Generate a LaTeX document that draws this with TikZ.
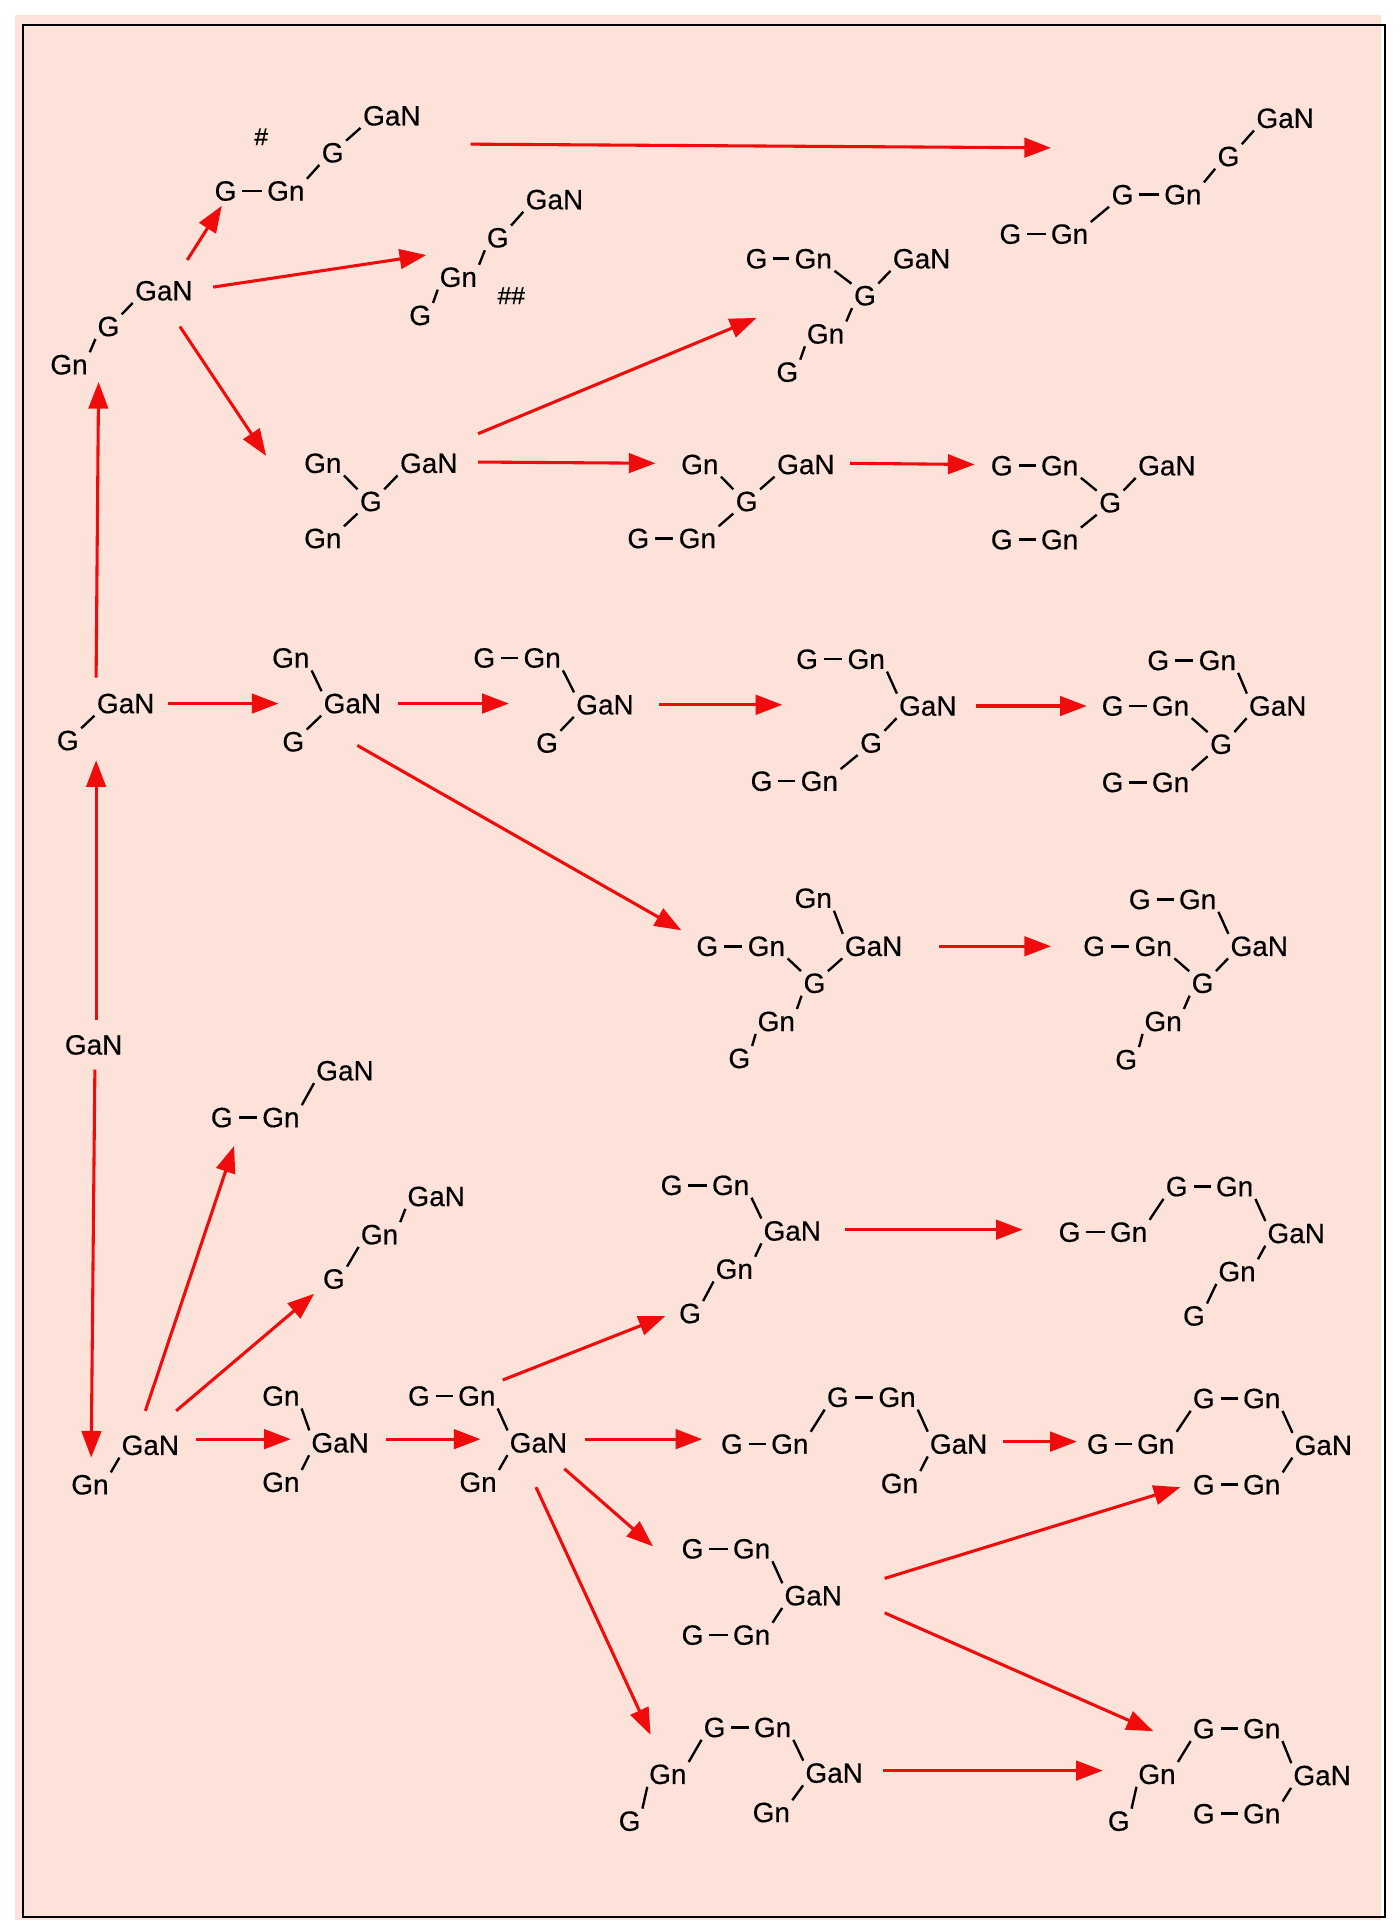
\documentclass[tikz,border=0pt]{standalone}
\usepackage{fontspec}
\setmainfont{Liberation Sans}
\newfontfamily\labfam{Liberation Sans}[FakeBold=0.4]
\usetikzlibrary{arrows.meta}
\definecolor{peach}{RGB}{252,226,216}
\definecolor{arrred}{RGB}{240,12,12}
\newcommand{\labfont}{\labfam\fontsize{13.6}{16}\selectfont}
\newcommand{\bup}[2]{\draw[bd] (#1.north east) -- (#2.south west);}
\newcommand{\bdn}[2]{\draw[bd] (#1.south east) -- (#2.north west);}
\newcommand{\bhz}[2]{\draw[hb] (#1.east) -- (#2.west);}
\newcommand{\arw}[3]{\coordinate (#1s) at (#2); \coordinate (#1e) at (#3); \draw[arr] (#1s) -- (#1e);}
\tikzset{
  lab/.style={inner sep=0.6pt, font=\labfont, text height=9.4pt, text depth=0pt},
  hsh/.style={inner sep=0.6pt, font=\labfam\fontsize{12}{14}\selectfont},
  bd/.style={line width=1.15pt, shorten <=0.6pt, shorten >=0.6pt},
  hb/.style={line width=1.25pt, shorten <=2.1pt, shorten >=1.8pt},
  arr/.style={draw=arrred, line width=1.5pt, -{Triangle[length=13pt,width=9.5pt]}},
}
\begin{document}
\begin{tikzpicture}[x=0.6pt,y=-0.6pt]
\useasboundingbox (0,0) rectangle (1136,1568);
\fill[peach] (12,12) rectangle (1121,1558);
\draw[line width=1pt] (19,20) rectangle (1124,1556);

% A
\node[lab] (a1) at (56,296) {Gn};
\node[lab] (a2) at (88,265) {G};
\node[lab] (a3) at (133,236) {GaN};
\bup{a1}{a2}\bup{a2}{a3}
% B
\node[hsh] (b0) at (212,111) {\#};
\node[lab] (b1) at (183,155) {G};
\node[lab] (b2) at (232,155) {Gn};
\node[lab] (b3) at (270,124) {G};
\node[lab] (b4) at (318,94) {GaN};
\bhz{b1}{b2}\bup{b2}{b3}\bup{b3}{b4}
% C
\node[lab] (c1) at (820,190) {G};
\node[lab] (c2) at (868,190) {Gn};
\node[lab] (c3) at (911,158) {G};
\node[lab] (c4) at (960,158) {Gn};
\node[lab] (c5) at (997,127) {G};
\node[lab] (c6) at (1043,96) {GaN};
\bhz{c1}{c2}\bup{c2}{c3}\bhz{c3}{c4}\bup{c4}{c5}\bup{c5}{c6}
% D
\node[lab] (d1) at (341,256) {G};
\node[lab] (d2) at (372,225) {Gn};
\node[lab] (d3) at (404,193) {G};
\node[lab] (d4) at (450,162) {GaN};
\node[hsh] (d0) at (415,240) {\#\#};
\bup{d1}{d2}\bup{d2}{d3}\bup{d3}{d4}
% E
\node[lab] (e1) at (614,210) {G};
\node[lab] (e2) at (660,210) {Gn};
\node[lab] (e3) at (748,210) {GaN};
\node[lab] (e4) at (702,240) {G};
\node[lab] (e5) at (670,271) {Gn};
\node[lab] (e6) at (639,302) {G};
\bhz{e1}{e2}\bdn{e2}{e4}\bup{e4}{e3}\bup{e5}{e4}\bup{e6}{e5}
% F
\node[lab] (f1) at (262,376) {Gn};
\node[lab] (f2) at (348,376) {GaN};
\node[lab] (f3) at (301,407) {G};
\node[lab] (f4) at (262,437) {Gn};
\bdn{f1}{f3}\bup{f3}{f2}\bup{f4}{f3}
% G
\node[lab] (g1) at (568,377) {Gn};
\node[lab] (g2) at (654,377) {GaN};
\node[lab] (g3) at (606,407) {G};
\node[lab] (g4) at (518,437) {G};
\node[lab] (g5) at (566,437) {Gn};
\bdn{g1}{g3}\bup{g3}{g2}\bup{g5}{g3}\bhz{g4}{g5}
% H
\node[lab] (h1) at (813,378) {G};
\node[lab] (h2) at (860,378) {Gn};
\node[lab] (h3) at (947,378) {GaN};
\node[lab] (h4) at (901,408) {G};
\node[lab] (h5) at (813,438) {G};
\node[lab] (h6) at (860,438) {Gn};
\bhz{h1}{h2}\bdn{h2}{h4}\bup{h4}{h3}\bup{h6}{h4}\bhz{h5}{h6}
% I
\node[lab] (i1) at (102,571) {GaN};
\node[lab] (i2) at (55,601) {G};
\bup{i2}{i1}
% J
\node[lab] (j1) at (236,534) {Gn};
\node[lab] (j2) at (286,571) {GaN};
\node[lab] (j3) at (238,602) {G};
\bdn{j1}{j2}\bup{j3}{j2}
% K
\node[lab] (k1) at (393,534) {G};
\node[lab] (k2) at (440,534) {Gn};
\node[lab] (k3) at (491,572) {GaN};
\node[lab] (k4) at (444,603) {G};
\bhz{k1}{k2}\bdn{k2}{k3}\bup{k4}{k3}
% L
\node[lab] (l1) at (655,535) {G};
\node[lab] (l2) at (703,535) {Gn};
\node[lab] (l3) at (753,573) {GaN};
\node[lab] (l4) at (707,603) {G};
\node[lab] (l5) at (618,634) {G};
\node[lab] (l6) at (665,634) {Gn};
\bhz{l1}{l2}\bdn{l2}{l3}\bup{l4}{l3}\bup{l6}{l4}\bhz{l5}{l6}
% M
\node[lab] (m1) at (940,536) {G};
\node[lab] (m2) at (988,536) {Gn};
\node[lab] (m3) at (903,573) {G};
\node[lab] (m4) at (950,573) {Gn};
\node[lab] (m5) at (1037,573) {GaN};
\node[lab] (m6) at (991,604) {G};
\node[lab] (m7) at (903,635) {G};
\node[lab] (m8) at (950,635) {Gn};
\bhz{m1}{m2}\bdn{m2}{m5}\bhz{m3}{m4}\bdn{m4}{m6}\bup{m6}{m5}\bup{m8}{m6}\bhz{m7}{m8}
% N
\node[lab] (n1) at (660,729) {Gn};
\node[lab] (n2) at (574,768) {G};
\node[lab] (n3) at (622,768) {Gn};
\node[lab] (n4) at (709,768) {GaN};
\node[lab] (n5) at (661,798) {G};
\node[lab] (n6) at (630,829) {Gn};
\node[lab] (n7) at (600,859) {G};
\bdn{n1}{n4}\bhz{n2}{n3}\bdn{n3}{n5}\bup{n5}{n4}\bup{n6}{n5}\bup{n7}{n6}
% O
\node[lab] (o1) at (925,730) {G};
\node[lab] (o2) at (972,730) {Gn};
\node[lab] (o3) at (888,768) {G};
\node[lab] (o4) at (936,768) {Gn};
\node[lab] (o5) at (1022,768) {GaN};
\node[lab] (o6) at (976,798) {G};
\node[lab] (o7) at (944,829) {Gn};
\node[lab] (o8) at (914,860) {G};
\bhz{o1}{o2}\bdn{o2}{o5}\bhz{o3}{o4}\bdn{o4}{o6}\bup{o6}{o5}\bup{o7}{o6}\bup{o8}{o7}
% root
\node[lab] (q0) at (76,848) {GaN};
% P
\node[lab] (p1) at (122,1173) {GaN};
\node[lab] (p2) at (73,1205) {Gn};
\bup{p2}{p1}
% Q
\node[lab] (q1) at (180,907) {G};
\node[lab] (q2) at (228,907) {Gn};
\node[lab] (q3) at (280,869) {GaN};
\bhz{q1}{q2}\bup{q2}{q3}
% R
\node[lab] (r1) at (271,1038) {G};
\node[lab] (r2) at (308,1002) {Gn};
\node[lab] (r3) at (354,971) {GaN};
\bup{r1}{r2}\bup{r2}{r3}
% S
\node[lab] (s1) at (228,1133) {Gn};
\node[lab] (s2) at (276,1171) {GaN};
\node[lab] (s3) at (228,1203) {Gn};
\bdn{s1}{s2}\bup{s3}{s2}
% T
\node[lab] (t1) at (340,1133) {G};
\node[lab] (t2) at (387,1133) {Gn};
\node[lab] (t3) at (437,1171) {GaN};
\node[lab] (t4) at (388,1203) {Gn};
\bhz{t1}{t2}\bdn{t2}{t3}\bup{t4}{t3}
% U
\node[lab] (u1) at (545,962) {G};
\node[lab] (u2) at (593,962) {Gn};
\node[lab] (u3) at (643,999) {GaN};
\node[lab] (u4) at (596,1030) {Gn};
\node[lab] (u5) at (560,1066) {G};
\bhz{u1}{u2}\bdn{u2}{u3}\bup{u4}{u3}\bup{u5}{u4}
% V
\node[lab] (v1) at (955,963) {G};
\node[lab] (v2) at (1002,963) {Gn};
\node[lab] (v3) at (868,1000) {G};
\node[lab] (v4) at (916,1000) {Gn};
\node[lab] (v5) at (1052,1001) {GaN};
\node[lab] (v6) at (1004,1032) {Gn};
\node[lab] (v7) at (969,1068) {G};
\bhz{v1}{v2}\bup{v4}{v1}\bdn{v2}{v5}\bhz{v3}{v4}\bup{v6}{v5}\bup{v7}{v6}
% W
\node[lab] (w1) at (680,1134) {G};
\node[lab] (w2) at (728,1134) {Gn};
\node[lab] (w3) at (594,1172) {G};
\node[lab] (w4) at (641,1172) {Gn};
\node[lab] (w5) at (778,1172) {GaN};
\node[lab] (w6) at (730,1204) {Gn};
\bhz{w1}{w2}\bup{w4}{w1}\bdn{w2}{w5}\bhz{w3}{w4}\bup{w6}{w5}
% X
\node[lab] (x1) at (977,1135) {G};
\node[lab] (x2) at (1024,1135) {Gn};
\node[lab] (x3) at (891,1172) {G};
\node[lab] (x4) at (938,1172) {Gn};
\node[lab] (x5) at (1074,1173) {GaN};
\node[lab] (x6) at (977,1205) {G};
\node[lab] (x7) at (1024,1205) {Gn};
\bhz{x1}{x2}\bup{x4}{x1}\bdn{x2}{x5}\bhz{x3}{x4}\bup{x7}{x5}\bhz{x6}{x7}
% Y
\node[lab] (y1) at (562,1257) {G};
\node[lab] (y2) at (610,1257) {Gn};
\node[lab] (y3) at (660,1295) {GaN};
\node[lab] (y4) at (562,1327) {G};
\node[lab] (y5) at (610,1327) {Gn};
\bhz{y1}{y2}\bdn{y2}{y3}\bup{y5}{y3}\bhz{y4}{y5}
% Z
\node[lab] (z1) at (580,1402) {G};
\node[lab] (z2) at (627,1402) {Gn};
\node[lab] (z3) at (542,1440) {Gn};
\node[lab] (z4) at (677,1439) {GaN};
\node[lab] (z5) at (626,1471) {Gn};
\node[lab] (z6) at (511,1478) {G};
\bhz{z1}{z2}\bup{z3}{z1}\bdn{z2}{z4}\bup{z5}{z4}\bup{z6}{z3}
% AA
\node[lab] (aa1) at (977,1403) {G};
\node[lab] (aa2) at (1024,1403) {Gn};
\node[lab] (aa3) at (939,1440) {Gn};
\node[lab] (aa4) at (1073,1441) {GaN};
\node[lab] (aa5) at (977,1472) {G};
\node[lab] (aa6) at (1024,1472) {Gn};
\node[lab] (aa7) at (908,1478) {G};
\bhz{aa1}{aa2}\bup{aa3}{aa1}\bdn{aa2}{aa4}\bup{aa6}{aa4}\bhz{aa5}{aa6}\bup{aa7}{aa3}

% arrows
\arw{r1}{152,211}{180,167}
\arw{r2}{173,233}{346,207}
\arw{r3}{146,265}{216,370}
\arw{r4}{382,117}{853,120}
\arw{r5}{388,352}{614,258}
\arw{r6}{388,375}{532,376}
\arw{r7}{690,376}{791,377}
\arw{r8}{78,550}{80,310}
\arw{r9}{136,571}{226,571}
\arw{r10}{323,571}{413,571}
\arw{r11}{535,572}{635,572}
\arw{r12}{792,573}{882,573}
\arw{r13}{290,605}{553,755}
\arw{r14}{762,768}{853,768}
\arw{r15}{78,828}{78,617}
\arw{r16}{77,868}{74,1183}
\arw{r17}{118,1145}{190,930}
\arw{r18}{143,1145}{255,1050}
\arw{r19}{159,1168}{236,1168}
\arw{r20}{313,1168}{390,1168}
\arw{r21}{408,1120}{540,1068}
\arw{r22}{686,998}{830,998}
\arw{r23}{475,1168}{570,1168}
\arw{r24}{814,1170}{874,1170}
\arw{r25}{458,1192}{530,1255}
\arw{r26}{718,1281}{958,1207}
\arw{r27}{718,1309}{936,1405}
\arw{r28}{435,1207}{528,1408}
\arw{r29}{717,1437}{895,1437}
\end{tikzpicture}
\end{document}
